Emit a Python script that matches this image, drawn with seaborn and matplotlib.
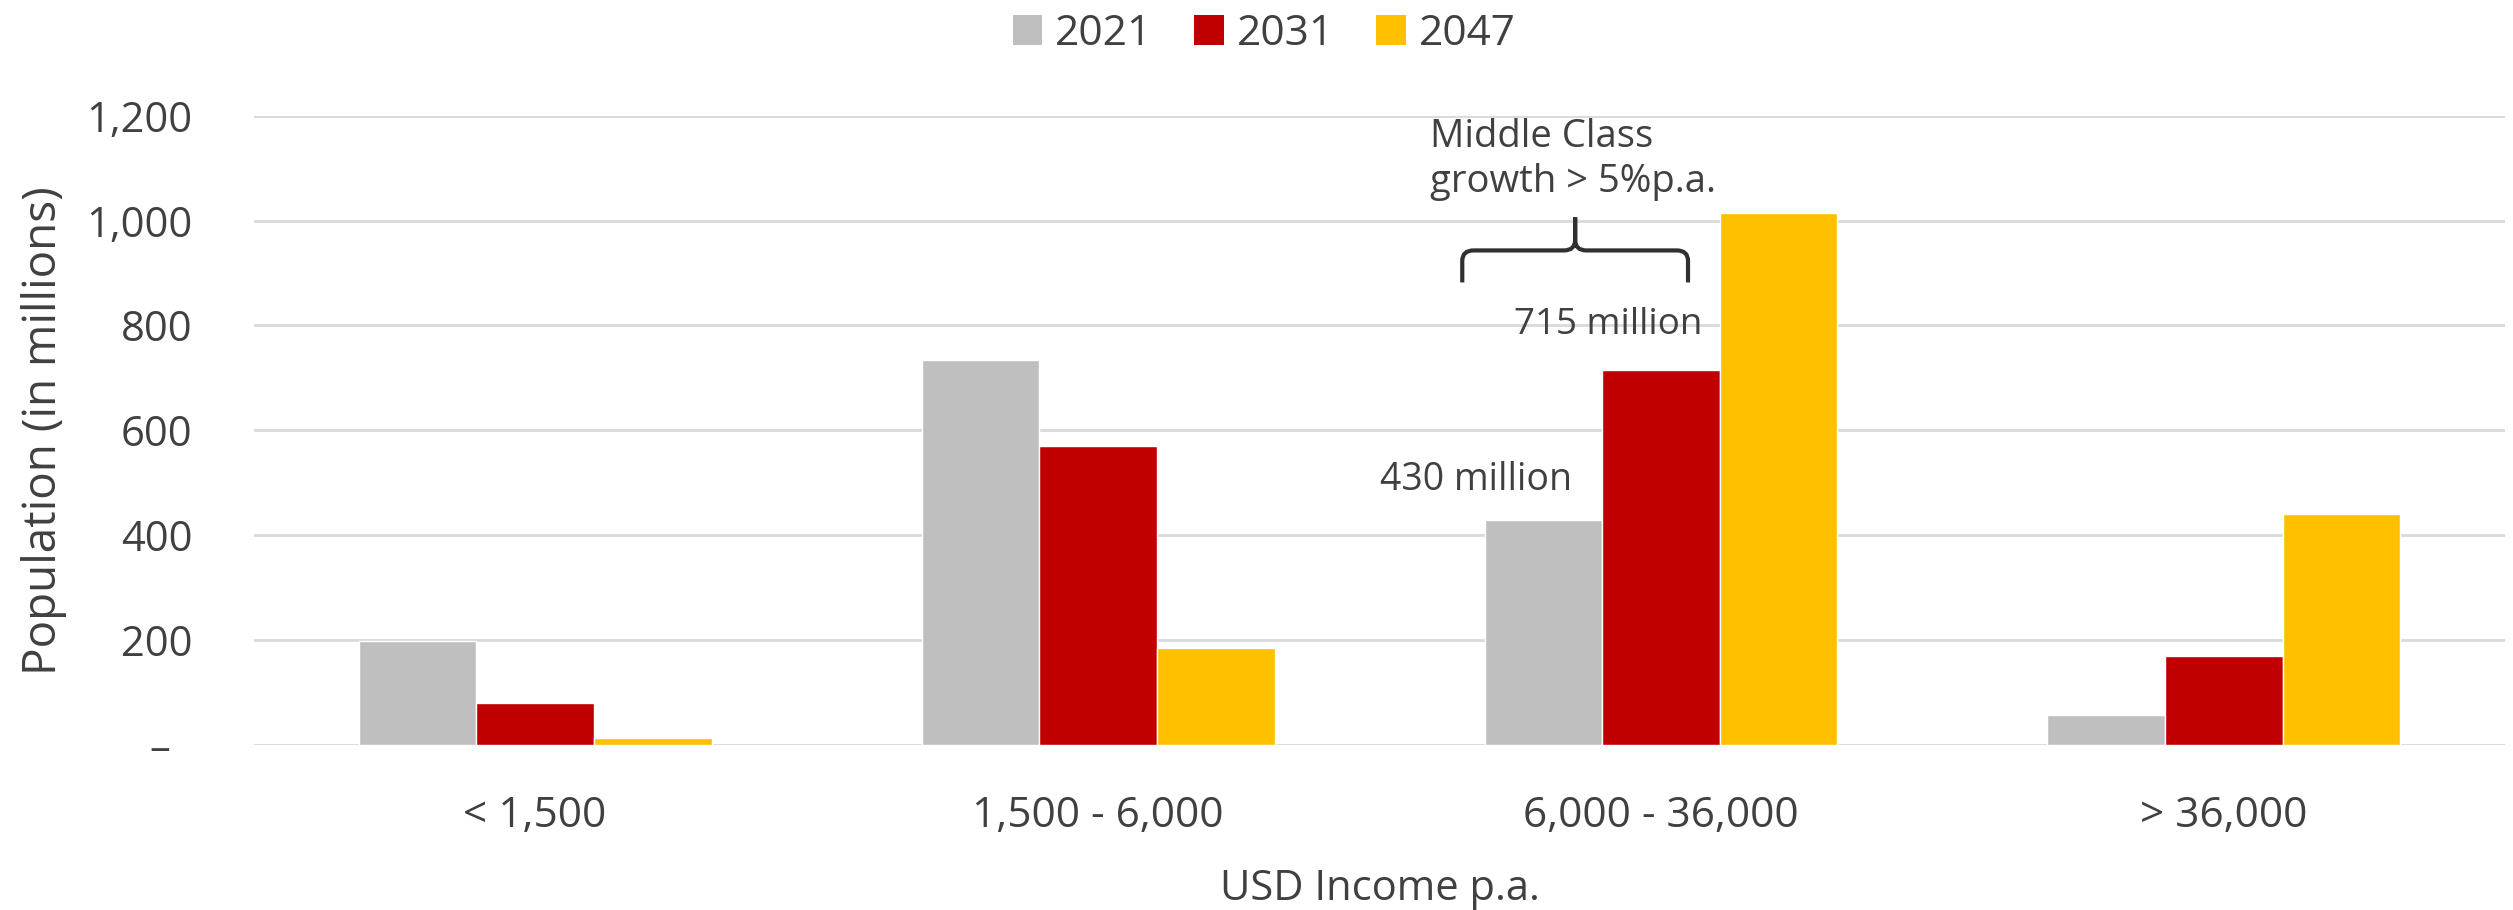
import matplotlib
matplotlib.use("Agg")
import matplotlib.pyplot as plt
from matplotlib.path import Path
from matplotlib.patches import PathPatch, Patch
import seaborn as sns
import pandas as pd

# Population by income band (millions)
categories = ["< 1,500", "1,500 - 6,000", "6,000 - 36,000", "> 36,000"]
years = ["2021", "2031", "2047"]
pop_2021 = [198, 735, 430, 57]
pop_2031 = [80, 570, 715, 171]
pop_2047 = [13, 186, 1015, 440]
colors = ["#BFBFBF", "#C00000", "#FFC000"]
ytick_values = [0, 200, 400, 600, 800, 1000, 1200]
ytick_labels = ["\u2013  ", "200", "400", "600", "800", "1,000", "1,200"]

df = pd.DataFrame({
    "band": categories * 3,
    "year": [y for y in years for _ in categories],
    "pop": pop_2021 + pop_2031 + pop_2047,
})

sns.set_theme(style="white")
plt.rcParams["font.family"] = ["Open Sans", "DejaVu Sans"]
TXT = "#404040"

fig = plt.figure(figsize=(25.13, 9.10), dpi=100)
ax = fig.add_axes([0.1009, 0.181, 0.8961, 0.692])

sns.barplot(data=df, x="band", y="pop", hue="year", order=categories,
            hue_order=years, palette=colors, width=0.627, gap=0,
            saturation=1, legend=False, ax=ax, zorder=3)

ax.set_xlim(-0.5, 3.5)
ax.set_ylim(0, 1200)
ax.set_yticks(ytick_values)
ax.set_yticklabels(ytick_labels)
ax.yaxis.grid(True, color="#D9D9D9", linewidth=2, zorder=0)
ax.set_axisbelow(True)
for s in ax.spines.values():
    s.set_visible(False)
ax.tick_params(axis="y", length=0, pad=44, labelsize=30, labelcolor=TXT)
ax.tick_params(axis="x", length=0, pad=36, labelsize=30.5, labelcolor=TXT)
ax.set_xlabel("USD Income p.a.", fontsize=30, color=TXT, labelpad=22)
ax.set_ylabel("Population (in millions)", fontsize=33, color=TXT)
ax.yaxis.set_label_coords(-0.083, 0.5)

# Legend across the top
handles = [Patch(facecolor=c, edgecolor="none") for c in colors]
fig.legend(handles, years, loc="upper center", bbox_to_anchor=(0.503, 1.028),
           ncol=3, frameon=False, fontsize=30.5, handlelength=0.7,
           handleheight=0.7, handletextpad=0.3, columnspacing=1.0,
           labelcolor=TXT)

# Middle-class annotation around the 6,000 - 36,000 band
mid = 2
bx0, bx1 = mid - 0.353, mid + 0.048
bxm = (bx0 + bx1) / 2
y_end, y_bar, y_tip = 882, 943, 1006
rx, ry = 0.02, 20
verts = [
    (bx0, y_end), (bx0, y_bar - ry), (bx0, y_bar), (bx0 + rx, y_bar),
    (bxm - rx, y_bar), (bxm, y_bar), (bxm, y_bar + ry), (bxm, y_tip),
    (bx1, y_end), (bx1, y_bar - ry), (bx1, y_bar), (bx1 - rx, y_bar),
    (bxm + rx, y_bar), (bxm, y_bar), (bxm, y_bar + ry), (bxm, y_tip),
]
codes = [
    Path.MOVETO, Path.LINETO, Path.CURVE3, Path.CURVE3,
    Path.LINETO, Path.CURVE3, Path.CURVE3, Path.LINETO,
    Path.MOVETO, Path.LINETO, Path.CURVE3, Path.CURVE3,
    Path.LINETO, Path.CURVE3, Path.CURVE3, Path.LINETO,
]
ax.add_patch(PathPatch(Path(verts, codes), fill=False, edgecolor="#303030",
                       linewidth=3, capstyle="butt", zorder=5, clip_on=False))

ax.text(1.59, 1196, "Middle Class\ngrowth > 5%p.a.", ha="left", va="top",
        fontsize=27.5, color=TXT, linespacing=1.25, zorder=6)
ax.text(mid + 0.073, pop_2031[mid] + 85, f"{pop_2031[mid]} million",
        ha="right", va="center", fontsize=26.5, color=TXT, zorder=6)
ax.text(mid - 0.158, pop_2021[mid] + 75, f"{pop_2021[mid]} million",
        ha="right", va="center", fontsize=27, color=TXT, zorder=6)

fig.savefig("out.png", dpi=100, facecolor="white")
